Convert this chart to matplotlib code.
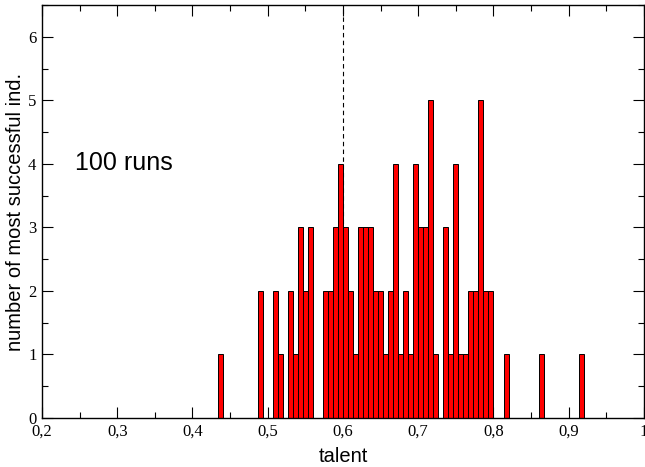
import matplotlib
matplotlib.use('Agg')
import matplotlib.pyplot as plt
from matplotlib.ticker import MultipleLocator, FuncFormatter

# histogram of talent for the most successful individual over 100 runs
bin_width = 1 / 150
bin_index = [65, 73, 76, 77, 79, 80, 81, 82, 83, 86, 87, 88, 89, 90, 91, 92,
             93, 94, 95, 96, 97, 98, 99, 100, 101, 102, 103, 104, 105, 106,
             107, 108, 110, 111, 112, 113, 114, 115, 116, 117, 118, 119, 122,
             129, 137]
counts = [1, 2, 2, 1, 2, 1, 3, 2, 3, 2, 2, 3, 4, 3, 2, 1,
          3, 3, 3, 2, 2, 1, 2, 4, 1, 2, 1, 4, 3, 3,
          5, 1, 3, 1, 4, 1, 1, 2, 2, 5, 2, 2, 1,
          1, 1]
mean_talent = 0.6

talent = [k * bin_width for k in bin_index]

fig = plt.figure(figsize=(6.45, 4.67), dpi=100)
ax = fig.add_axes([0.0651, 0.1049, 0.9333, 0.8844])

ax.axvline(mean_talent, color='black', linestyle=(0, (4, 3)), linewidth=0.8, zorder=1)
ax.bar(talent, counts, width=bin_width, align='edge', color='#ff0000',
       edgecolor='black', linewidth=0.7, zorder=2)

ax.set_xlim(0.2, 1.0)
ax.set_ylim(0, 6.5)

ax.xaxis.set_major_locator(MultipleLocator(0.1))
ax.xaxis.set_minor_locator(MultipleLocator(0.05))
ax.yaxis.set_major_locator(MultipleLocator(1))
ax.yaxis.set_minor_locator(MultipleLocator(0.5))

def comma_fmt(v, pos):
    if v >= 0.999:
        return '1'
    return ('%.1f' % v).replace('.', ',')

ax.xaxis.set_major_formatter(FuncFormatter(comma_fmt))
ax.yaxis.set_major_formatter(FuncFormatter(lambda v, p: '%d' % v))

ax.tick_params(which='both', direction='in', top=True, right=True, width=0.8)
ax.tick_params(which='major', length=8, pad=4)
ax.tick_params(which='minor', length=4)
for lab in ax.get_xticklabels() + ax.get_yticklabels():
    lab.set_family('Liberation Serif')
    lab.set_fontsize(12)

for s in ax.spines.values():
    s.set_linewidth(1.0)

ax.set_xlabel('talent', family='Liberation Sans', fontsize=14.5, labelpad=5)
ax.set_ylabel('number of most successful ind.', family='Liberation Sans', fontsize=14.5, labelpad=2)

ax.text(0.2438, 4.02, '100 runs', family='Liberation Sans', fontsize=18,
        ha='left', va='center')

fig.savefig('out.png', dpi=100)
